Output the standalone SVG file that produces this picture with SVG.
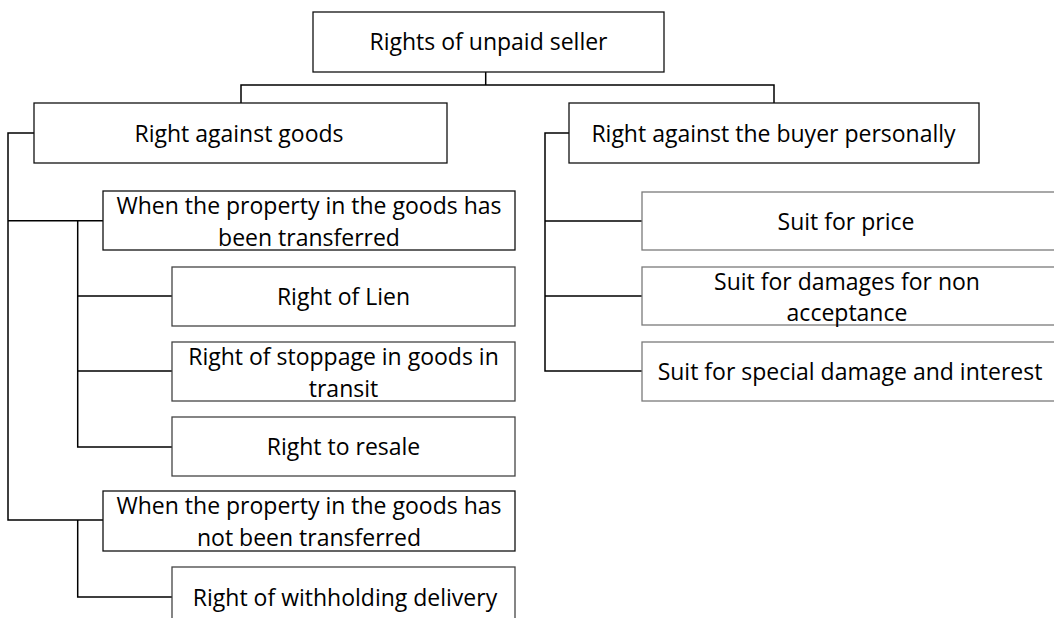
<svg xmlns="http://www.w3.org/2000/svg" width="1054" height="618" viewBox="0 0 1054 618">
  <style>
    .box { fill: #ffffff; stroke: #111111; stroke-width: 1.3; }
    .box.soft { stroke: #444444; }
    .box.light { stroke: #7a7a7a; }
    .lbl { font-family: "Open Sans", "Noto Sans", "Liberation Sans", sans-serif; font-size: 23px; fill: #000000; text-anchor: middle; }
    .wire { fill: none; stroke: #000000; stroke-width: 1.5; }
  </style>
  <rect width="1054" height="618" fill="#ffffff"/>

  <!-- connectors -->
  <g id="connectors" class="wire">
    <path d="M485.7 72 V85 M241 103 V85 H774 V103"/>
    <path d="M34 133 H8 V520 H103 M8 220.7 H103"/>
    <path d="M77.7 220.7 V447 H172 M77.7 296 H172 M77.7 371 H172"/>
    <path d="M77.7 520 V597 H172"/>
    <path d="M569 133 H545 V371 H642 M545 221 H642 M545 296 H642"/>
  </g>

  <g id="root">
    <rect class="box" x="313" y="12" width="351" height="60"/>
    <text class="lbl" x="488.5" y="50">Rights of unpaid seller</text>
  </g>

  <g id="goods">
    <rect class="box" x="34" y="103" width="413" height="60"/>
    <text class="lbl" x="239" y="141.5">Right against goods</text>
  </g>

  <g id="buyer">
    <rect class="box" x="569" y="103" width="410" height="60"/>
    <text class="lbl" x="773.5" y="141.5">Right against the buyer personally</text>
  </g>

  <g id="transferred">
    <rect class="box" x="103" y="191" width="412" height="59"/>
    <text class="lbl" x="309" y="213.5">When the property in the goods has<tspan x="309" dy="32">been transferred</tspan></text>
  </g>

  <g id="lien">
    <rect class="box soft" x="172" y="267" width="343" height="59"/>
    <text class="lbl" x="343.5" y="305">Right of Lien</text>
  </g>

  <g id="stoppage">
    <rect class="box soft" x="172" y="342" width="343" height="59"/>
    <text class="lbl" x="343.5" y="364.5">Right of stoppage in goods in<tspan x="343.5" dy="32">transit</tspan></text>
  </g>

  <g id="resale">
    <rect class="box soft" x="172" y="417" width="343" height="59"/>
    <text class="lbl" x="343.5" y="455">Right to resale</text>
  </g>

  <g id="not-transferred">
    <rect class="box" x="103" y="491" width="412" height="60"/>
    <text class="lbl" x="309" y="513.5">When the property in the goods has<tspan x="309" dy="32">not been transferred</tspan></text>
  </g>

  <g id="withholding">
    <rect class="box soft" x="172" y="567" width="343" height="60"/>
    <text class="lbl" x="345" y="606">Right of withholding delivery</text>
  </g>

  <g id="price">
    <rect class="box light" x="642" y="192" width="414" height="58"/>
    <text class="lbl" x="846" y="230">Suit for price</text>
  </g>

  <g id="non-acceptance">
    <rect class="box light" x="642" y="267" width="414" height="58"/>
    <text class="lbl" x="847" y="290">Suit for damages for non<tspan x="847" dy="31">acceptance</tspan></text>
  </g>

  <g id="special-damage">
    <rect class="box light" x="642" y="342" width="414" height="59"/>
    <text class="lbl" x="850" y="380">Suit for special damage and interest</text>
  </g>
</svg>
